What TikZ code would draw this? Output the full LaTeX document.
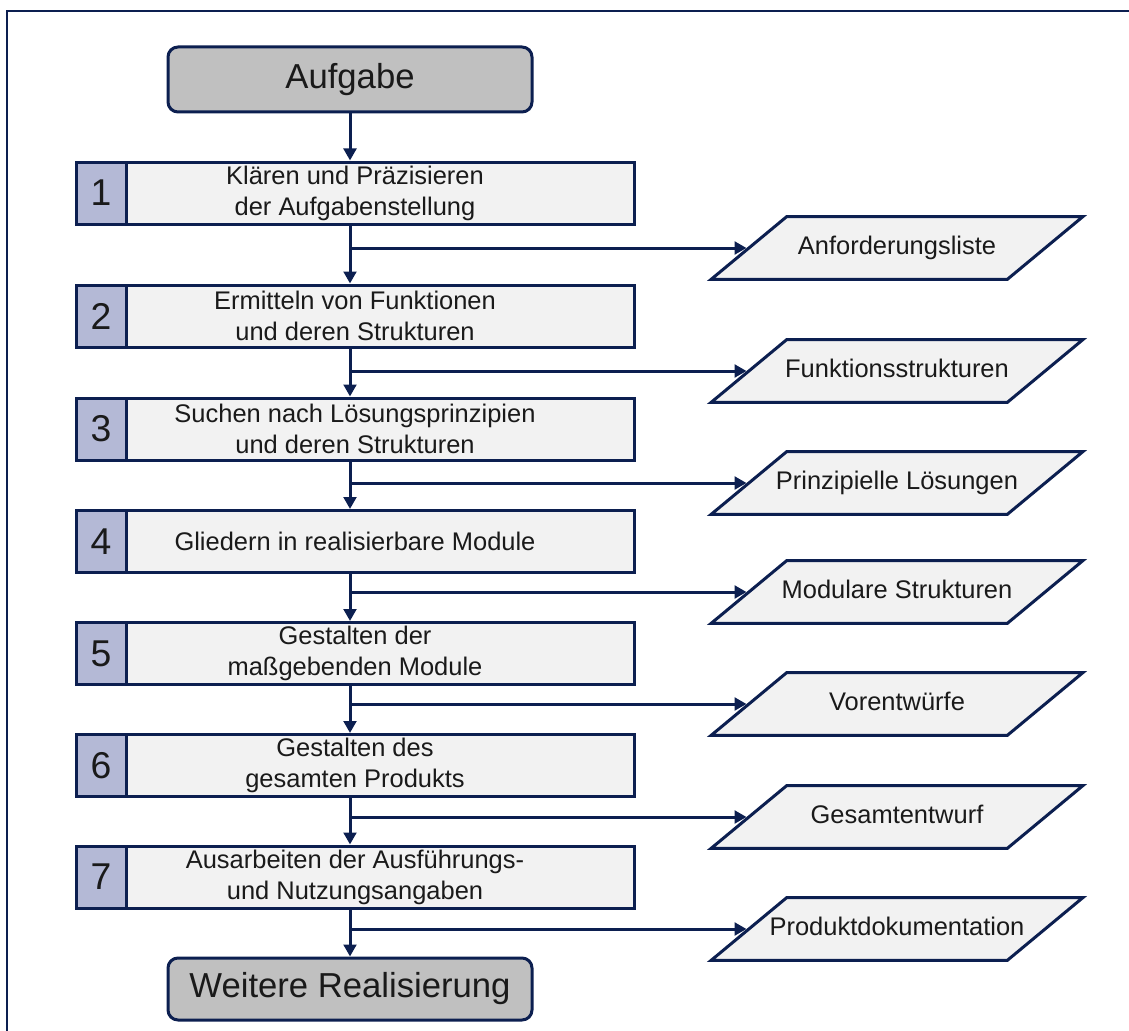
\documentclass[tikz,border=0pt]{standalone}
\usepackage{fontspec}
\setmainfont{Liberation Sans}
\usetikzlibrary{shapes.geometric,arrows.meta}
\definecolor{navy}{RGB}{12,31,80}
\definecolor{boxfill}{RGB}{242,242,242}
\definecolor{numfill}{RGB}{180,185,214}
\definecolor{endfill}{RGB}{192,192,192}
\definecolor{ink}{RGB}{26,26,26}

\begin{document}
\begin{tikzpicture}[x=0.75pt,y=-0.75pt,
  every node/.style={text=ink},
  phase/.style={draw=navy,line width=2.25pt,fill=boxfill,minimum width=418.5pt,
    minimum height=46.5pt,inner sep=0pt,align=center,font=\fontsize{19.1}{23.25}\selectfont},
  nummer/.style={draw=navy,line width=2.25pt,fill=numfill,minimum width=37.5pt,
    minimum height=46.5pt,inner sep=0pt,font=\fontsize{28}{32}\selectfont},
  ergebnis/.style={trapezium,trapezium left angle=39.7,trapezium right angle=140.3,
    trapezium stretches body,draw=navy,line width=2.25pt,fill=boxfill,
    text height=14pt,text depth=4pt,inner xsep=-16pt,inner ysep=14.6pt,
    minimum width=279pt,font=\fontsize{19.1}{23.25}\selectfont},
  ende/.style={rounded corners=7.5pt,draw=navy,line width=2.25pt,fill=endfill,
    minimum width=273pt,inner sep=0pt,font=\fontsize{26}{30}\selectfont},
  pfeil/.style={draw=navy,line width=2.25pt,-{Triangle[length=9pt,width=9.5pt]}}]
  \useasboundingbox (0,0) rectangle (1129,1031);
  \draw[navy,line width=2pt] (7,1031) -- (7,11) -- (1129,11);

  % start and end
  \node[ende,minimum height=48.75pt] (aufgabe) at (350,79.5) {Aufgabe};
  \node[ende,minimum height=46.5pt] (weiter) at (350,989) {Weitere Realisierung};

  % phases
  \node[phase] (s1) at (355,193) {Klären und Präzisieren\\der Aufgabenstellung};
  \node[nummer] (n1) at (101,193) {1};
  \node[phase] (s2) at (355,316) {Ermitteln von Funktionen\\und deren Strukturen};
  \node[nummer] (n2) at (101,316) {2};
  \node[phase] (s3) at (355,429) {Suchen nach Lösungsprinzipien\\und deren Strukturen};
  \node[nummer] (n3) at (101,429) {3};
  \node[phase] (s4) at (355,541.5) {Gliedern in realisierbare Module};
  \node[nummer] (n4) at (101,541.5) {4};
  \node[phase] (s5) at (355,653.5) {Gestalten der\\maßgebenden Module};
  \node[nummer] (n5) at (101,653.5) {5};
  \node[phase] (s6) at (355,765.5) {Gestalten des\\gesamten Produkts};
  \node[nummer] (n6) at (101,765.5) {6};
  \node[phase] (s7) at (355,877) {Ausarbeiten der Ausführungs-\\und Nutzungsangaben};
  \node[nummer] (n7) at (101,877) {7};

  % results
  \node[ergebnis] (o1) at (897,248) {Anforderungsliste};
  \node[ergebnis] (o2) at (897,371) {Funktionsstrukturen};
  \node[ergebnis] (o3) at (897,483) {Prinzipielle Lösungen};
  \node[ergebnis] (o4) at (897,592) {Modulare Strukturen};
  \node[ergebnis] (o5) at (897,704) {Vorentwürfe};
  \node[ergebnis] (o6) at (897,817) {Gesamtentwurf};
  \node[ergebnis] (o7) at (897,929) {Produktdokumentation};

  % flow
  \draw[pfeil] (aufgabe) -- (aufgabe |- s1.north);
  \draw[pfeil] (aufgabe |- s1.south) -- (aufgabe |- s2.north);
  \draw[pfeil] (aufgabe |- s2.south) -- (aufgabe |- s3.north);
  \draw[pfeil] (aufgabe |- s3.south) -- (aufgabe |- s4.north);
  \draw[pfeil] (aufgabe |- s4.south) -- (aufgabe |- s5.north);
  \draw[pfeil] (aufgabe |- s5.south) -- (aufgabe |- s6.north);
  \draw[pfeil] (aufgabe |- s6.south) -- (aufgabe |- s7.north);
  \draw[pfeil] (aufgabe |- s7.south) -- (weiter);
  \draw[pfeil] (aufgabe |- s1.south) |- (o1);
  \draw[pfeil] (aufgabe |- s2.south) |- (o2);
  \draw[pfeil] (aufgabe |- s3.south) |- (o3);
  \draw[pfeil] (aufgabe |- s4.south) |- (o4);
  \draw[pfeil] (aufgabe |- s5.south) |- (o5);
  \draw[pfeil] (aufgabe |- s6.south) |- (o6);
  \draw[pfeil] (aufgabe |- s7.south) |- (o7);
\end{tikzpicture}
\end{document}
